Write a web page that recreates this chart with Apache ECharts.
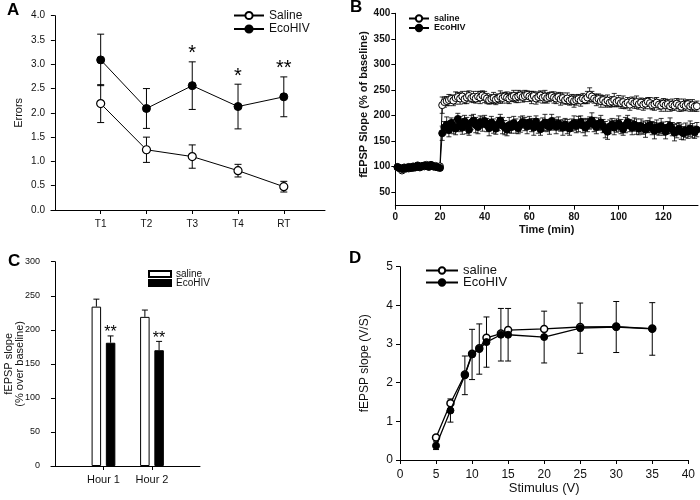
<!DOCTYPE html>
<html><head><meta charset="utf-8">
<script src="https://cdn.jsdelivr.net/npm/echarts@6/dist/echarts.min.js"></script>
<style>html,body{margin:0;padding:0;background:#fff}#c{width:700px;height:500px}</style>
</head><body><div id="c"></div>
<script>
// ---------- Panel A ----------
const catsA = ['T1', 'T2', 'T3', 'T4', 'RT'];
const salineA = [2.19, 1.24, 1.10, 0.81, 0.48];
const salineAErr = [0.39, 0.26, 0.24, 0.13, 0.11];
const ecoA = [3.09, 2.09, 2.56, 2.13, 2.33];
const ecoAErr = [0.53, 0.41, 0.49, 0.46, 0.41];
const sigA = ['', '', '*', '*', '**'];

// ---------- Panel B ----------
const timeB = [
  1,2,3,4,5,6,7,8,9,10, 11,12,13,14,15,16,17,18,19,20,
  21,22,23,24,25,26,27,28,29,30, 31,32,33,34,35,36,37,38,39,40,
  41,42,43,44,45,46,47,48,49,50, 51,52,53,54,55,56,57,58,59,60,
  61,62,63,64,65,66,67,68,69,70, 71,72,73,74,75,76,77,78,79,80,
  81,82,83,84,85,86,87,88,89,90, 91,92,93,94,95,96,97,98,99,100,
  101,102,103,104,105,106,107,108,109,110, 111,112,113,114,115,116,117,118,119,120,
  121,122,123,124,125,126,127,128,129,130, 131,132,133,134,135
];
const salineB = [
  98,96,92,95,97,96,98,97,99,100, 98,101,100,103,101,102,100,101,99,100,
  220,226,228,230,232,229,234,236,233,237, 232,235,238,234,236,233,237,235,239,236,
  233,230,232,234,231,233,236,234,237,235, 233,236,238,235,237,239,236,238,240,237,
  235,238,233,236,239,235,237,234,236,238, 235,233,236,232,234,230,233,229,231,228,
  230,232,229,233,231,235,240,237,233,230, 232,228,230,226,229,225,227,230,226,228,
  224,226,222,225,221,227,224,226,222,225, 221,223,227,224,220,222,225,221,219,223,
  220,222,218,221,219,223,220,217,221,219, 222,218,220,217,218
];
const salineBErr = [
  3,3,4,3,3,3,2,3,3,3, 3,3,3,4,3,3,3,3,3,3,
  16,10,9,11,8,10,12,9,11,10, 9,12,10,8,11,9,10,12,9,11,
  10,8,9,11,10,9,12,10,8,11, 10,9,11,10,12,9,10,11,8,10,
  12,9,11,10,9,11,12,10,9,8, 11,10,9,12,10,8,11,9,10,12,
  10,9,11,10,8,12,14,10,9,11, 10,12,9,10,11,9,10,13,9,11,
  10,12,9,10,11,9,10,12,10,9, 11,10,8,11,9,12,10,9,11,10,
  12,9,10,11,9,10,12,9,11,10, 9,10,11,9,10
];
const ecoB = [
  99,97,95,98,96,99,97,100,98,102, 99,100,102,101,99,103,100,99,98,97,
  165,176,182,171,185,178,174,193,183,176, 188,180,172,186,190,181,177,187,183,189,
  181,175,186,179,174,183,190,180,176,172, 181,177,185,179,175,182,187,183,178,186,
  181,176,188,179,173,182,186,180,177,189, 183,178,184,180,176,182,178,174,181,185,
  179,183,187,180,176,181,185,190,182,177, 183,186,179,172,168,178,182,176,180,184,
  178,173,181,187,180,176,182,178,174,179, 176,172,178,181,175,170,177,173,179,174,
  168,176,180,173,166,170,174,168,165,171, 168,174,170,167,172
];
const ecoBErr = [
  4,3,4,3,4,3,3,4,3,3, 3,4,3,3,4,3,3,4,3,4,
  14,12,15,13,10,14,12,11,15,13, 12,16,11,14,12,15,13,12,14,11,
  13,15,12,14,11,13,12,16,14,12, 15,12,13,14,11,15,12,13,14,12,
  13,15,11,14,12,13,16,12,14,13, 12,14,13,11,15,12,14,13,12,14,
  13,15,12,14,16,13,12,15,14,13, 12,14,13,16,15,13,12,14,13,15,
  14,12,15,13,12,14,13,15,12,14, 13,15,12,14,13,16,14,12,15,13,
  14,12,15,13,16,14,12,15,13,14, 13,15,14,12,14
];
const ticksBX = [0, 20, 40, 60, 80, 100, 120];
const ticksBY = [50, 100, 150, 200, 250, 300, 350, 400];

// ---------- Panel C ----------
const catsC = ['Hour 1', 'Hour 2'];
const salineC = [234, 219];
const salineCErr = [11, 10];
const ecoC = [181, 170];
const ecoCErr = [10, 13];
const sigC = ['**', '**'];

// ---------- Panel D ----------
const stimD = [5, 7, 9, 10, 11, 12, 14, 15, 20, 25, 30, 35];
const salineD = [0.58, 1.47, 2.21, 2.75, 2.89, 3.16, 3.27, 3.36, 3.39, 3.44, 3.45, 3.40];
const ecoD = [0.37, 1.28, 2.19, 2.73, 2.87, 3.05, 3.24, 3.24, 3.18, 3.41, 3.44, 3.39];
const ecoDErr = [0.10, 0.30, 0.50, 0.65, 0.65, 0.65, 0.68, 0.68, 0.67, 0.65, 0.66, 0.68];

// ---------- helpers ----------
const FONT = 'Arial, "Liberation Sans", Helvetica, sans-serif';
const INK = '#111';
function pairs(xs, ys) { return xs.map((x, i) => [x, ys[i]]); }
function triples(xs, ys, es) { return xs.map((x, i) => [x, ys[i], es[i]]); }

function errorSeries(name, xIdx, yIdx, data, opt) {
  return {
    type: 'custom', name: name, xAxisIndex: xIdx, yAxisIndex: yIdx, z: 1,
    silent: true, animation: false, clip: false,
    data: data,
    renderItem: function (params, api) {
      const x = api.value(0), y = api.value(1), e = api.value(2);
      const off = opt.offset || 0;
      const top = api.coord([x, y + e]);
      const bot = api.coord([x, opt.upOnly ? y : y - e]);
      const cx = top[0] + off;
      const hw = opt.cap / 2;
      const st = { stroke: '#000', lineWidth: opt.lw || 1 };
      const ch = [
        { type: 'line', shape: { x1: cx, y1: top[1], x2: cx, y2: bot[1] }, style: st },
        { type: 'line', shape: { x1: cx - hw, y1: top[1], x2: cx + hw, y2: top[1] }, style: st }
      ];
      if (!opt.upOnly) ch.push({ type: 'line', shape: { x1: cx - hw, y1: bot[1], x2: cx + hw, y2: bot[1] }, style: st });
      if (opt.sig && opt.sig[params.dataIndex]) {
        ch.push({ type: 'text', x: cx, y: top[1] + (opt.sigOffset || 0),
          style: { text: opt.sig[params.dataIndex], fill: '#000', font: opt.sigFont,
                   align: 'center', verticalAlign: 'bottom' } });
      }
      return { type: 'group', children: ch };
    }
  };
}

const axisLine = { show: true, lineStyle: { color: '#000', width: 1 } };
const axisTick = { show: true, length: 4, lineStyle: { color: '#000', width: 1 } };

const openItem = { color: '#fff', borderColor: '#000', borderWidth: 1.2 };
const fillItem = { color: '#000', borderColor: '#000', borderWidth: 1 };
const lineSt = { color: '#000', width: 1 };

const option = {
  animation: false,
  backgroundColor: '#fff',
  textStyle: { fontFamily: FONT, color: INK },
  graphic: [
    { type: 'text', left: 7, top: 2, style: { text: 'A', font: 'bold 17px ' + FONT, fill: '#000' } },
    { type: 'text', left: 350, top: -1, style: { text: 'B', font: 'bold 17px ' + FONT, fill: '#000' } },
    { type: 'text', left: 8, top: 253, style: { text: 'C', font: 'bold 17px ' + FONT, fill: '#000' } },
    { type: 'text', left: 349, top: 250, style: { text: 'D', font: 'bold 17px ' + FONT, fill: '#000' } }
  ],
  grid: [
    { left: 51, top: 15.7, width: 274, height: 194.3, containLabel: false },
    { left: 395.3, top: 13.3, width: 302.7, height: 192.4, containLabel: false },
    { left: 51, top: 261.7, width: 149, height: 204.3, containLabel: false },
    { left: 400, top: 266.7, width: 288.3, height: 193.3, containLabel: false }
  ],
  xAxis: [
    { gridIndex: 0, type: 'value', min: -0.085, max: 5.9,
      axisLine: axisLine, axisTick: Object.assign({ customValues: [1, 2, 3, 4, 5] }, axisTick),
      splitLine: { show: false },
      axisLabel: { customValues: [1, 2, 3, 4, 5], formatter: v => catsA[Math.round(v) - 1] || '',
                   fontSize: 10, color: INK, margin: 9 } },
    { gridIndex: 1, type: 'value', min: 0, max: 135.5,
      name: 'Time (min)', nameLocation: 'middle', nameGap: 19,
      nameTextStyle: { fontSize: 11, fontWeight: 'bold', color: INK },
      axisLine: axisLine, axisTick: Object.assign({ customValues: ticksBX }, axisTick),
      splitLine: { show: false },
      axisLabel: { customValues: ticksBX, fontSize: 10, fontWeight: 'bold', color: INK, margin: 7 } },
    { gridIndex: 2, type: 'value', min: -0.082, max: 2.99,
      axisLine: axisLine, axisTick: Object.assign({ customValues: [1, 2] }, axisTick),
      splitLine: { show: false },
      axisLabel: { customValues: [1, 2], formatter: v => catsC[Math.round(v) - 1] || '',
                   fontSize: 11, color: INK, margin: 8 } },
    { gridIndex: 3, type: 'value', min: 0, max: 40, interval: 5,
      name: 'Stimulus (V)', nameLocation: 'middle', nameGap: 21,
      nameTextStyle: { fontSize: 13, color: INK },
      axisLine: axisLine, axisTick: axisTick, splitLine: { show: false },
      axisLabel: { fontSize: 12, color: INK, margin: 9 } }
  ],
  yAxis: [
    { gridIndex: 0, type: 'value', min: 0, max: 4, interval: 0.5,
      name: 'Errors', nameLocation: 'middle', nameGap: 27, nameRotate: 90,
      nameTextStyle: { fontSize: 11, color: INK },
      axisLine: axisLine, axisTick: axisTick, splitLine: { show: false },
      axisLabel: { formatter: v => v.toFixed(1), fontSize: 10, color: INK, margin: 6 } },
    { gridIndex: 1, type: 'value', min: 23, max: 400,
      name: 'fEPSP Slope (% of baseline)', nameLocation: 'middle', nameGap: 24, nameRotate: 90,
      nameTextStyle: { fontSize: 11, fontWeight: 'bold', color: INK, padding: [0, 0, 0, 10] },
      axisLine: axisLine, axisTick: Object.assign({ customValues: ticksBY }, axisTick),
      splitLine: { show: false },
      axisLabel: { customValues: ticksBY, fontSize: 10, fontWeight: 'bold', color: INK, margin: 5 } },
    { gridIndex: 2, type: 'value', min: 0, max: 300, interval: 50,
      name: 'fEPSP slope\n(% over baseline)', nameLocation: 'middle', nameGap: 26, nameRotate: 90,
      nameMoveOverlap: false,
      nameTextStyle: { fontSize: 11, color: INK, lineHeight: 10.5 },
      axisLine: axisLine, axisTick: axisTick, splitLine: { show: false },
      axisLabel: { fontSize: 9, color: INK, margin: 11 } },
    { gridIndex: 3, type: 'value', min: 0, max: 5, interval: 1,
      name: 'fEPSP slope (V/S)', nameLocation: 'middle', nameGap: 29, nameRotate: 90,
      nameTextStyle: { fontSize: 12, color: INK },
      axisLine: axisLine, axisTick: axisTick, splitLine: { show: false },
      axisLabel: { fontSize: 12, color: INK, margin: 7 } }
  ],
  legend: [
    { orient: 'vertical', left: 233, top: 9.5, padding: 0, itemWidth: 30, itemHeight: 9, itemGap: 1.5,
      data: ['Saline|A', 'EcoHIV|A'], formatter: n => n.split('|')[0],
      textStyle: { fontSize: 12, color: INK, fontFamily: FONT }, selectedMode: false },
    { orient: 'vertical', left: 408, top: 14, padding: 0, itemWidth: 20, itemHeight: 8, itemGap: 0.5,
      data: ['saline|B', 'EcoHIV|B'], formatter: n => n.split('|')[0],
      textStyle: { fontSize: 9, fontWeight: 'bold', color: INK, fontFamily: FONT }, selectedMode: false },
    { orient: 'vertical', left: 148, top: 269, padding: 0, itemWidth: 22, itemHeight: 6, itemGap: -1, icon: 'rect',
      data: ['saline|C', 'EcoHIV|C'], formatter: n => n.split('|')[0],
      textStyle: { fontSize: 10, color: INK, fontFamily: FONT }, selectedMode: false },
    { orient: 'vertical', left: 425, top: 264, padding: 0, itemWidth: 32, itemHeight: 8, itemGap: -1,
      data: ['saline|D', 'EcoHIV|D'], formatter: n => n.split('|')[0],
      textStyle: { fontSize: 13, color: INK, fontFamily: FONT }, selectedMode: false }
  ],
  series: [
    // A
    errorSeries('errSalineA', 0, 0, triples([1, 2, 3, 4, 5], salineA, salineAErr), { cap: 7 }),
    errorSeries('errEcoA', 0, 0, triples([1, 2, 3, 4, 5], ecoA, ecoAErr),
      { cap: 7, sig: sigA, sigFont: '20px ' + FONT, sigOffset: 2 }),
    { type: 'line', name: 'Saline|A', xAxisIndex: 0, yAxisIndex: 0, z: 3,
      data: pairs([1, 2, 3, 4, 5], salineA), symbol: 'circle', symbolSize: 8,
      itemStyle: openItem, lineStyle: lineSt },
    { type: 'line', name: 'EcoHIV|A', xAxisIndex: 0, yAxisIndex: 0, z: 3,
      data: pairs([1, 2, 3, 4, 5], ecoA), symbol: 'circle', symbolSize: 8,
      itemStyle: fillItem, lineStyle: lineSt },
    // B
    errorSeries('errSalineB', 1, 1, triples(timeB, salineB, salineBErr), { cap: 5, lw: 0.8 }),
    errorSeries('errEcoB', 1, 1, triples(timeB, ecoB, ecoBErr), { cap: 5, lw: 0.8 }),
    { type: 'line', name: 'saline|B', xAxisIndex: 1, yAxisIndex: 1, z: 3,
      data: pairs(timeB, salineB), symbol: 'circle', symbolSize: 7,
      itemStyle: { color: '#fff', borderColor: '#000', borderWidth: 1 }, lineStyle: lineSt },
    { type: 'line', name: 'EcoHIV|B', xAxisIndex: 1, yAxisIndex: 1, z: 3,
      data: pairs(timeB, ecoB), symbol: 'circle', symbolSize: 7,
      itemStyle: fillItem, lineStyle: lineSt },
    // C
    { type: 'bar', name: 'saline|C', xAxisIndex: 2, yAxisIndex: 2, z: 2,
      data: pairs([1, 2], salineC), barWidth: 9.5, barGap: '50%',
      itemStyle: { color: '#fff', borderColor: '#000', borderWidth: 1 } },
    { type: 'bar', name: 'EcoHIV|C', xAxisIndex: 2, yAxisIndex: 2, z: 2,
      data: pairs([1, 2], ecoC), barWidth: 9.5, barGap: '50%',
      itemStyle: { color: '#000', borderColor: '#000', borderWidth: 1 } },
    errorSeries('errSalineC', 2, 2, triples([1, 2], salineC, salineCErr), { cap: 6, upOnly: true, offset: -7.1 }),
    errorSeries('errEcoC', 2, 2, triples([1, 2], ecoC, ecoCErr),
      { cap: 6, upOnly: true, offset: 7.1, sig: sigC, sigFont: '16px ' + FONT, sigOffset: 5 }),
    // D
    errorSeries('errEcoD', 3, 3, triples(stimD, ecoD, ecoDErr), { cap: 6 }),
    { type: 'line', name: 'saline|D', xAxisIndex: 3, yAxisIndex: 3, z: 3,
      data: pairs(stimD, salineD), symbol: 'circle', symbolSize: 7,
      itemStyle: { color: '#fff', borderColor: '#000', borderWidth: 1.5 }, lineStyle: { color: '#000', width: 1.3 } },
    { type: 'line', name: 'EcoHIV|D', xAxisIndex: 3, yAxisIndex: 3, z: 4,
      data: pairs(stimD, ecoD), symbol: 'circle', symbolSize: 7,
      itemStyle: fillItem, lineStyle: { color: '#000', width: 1.3 } }
  ]
};

const chart = echarts.init(document.getElementById('c'), null, { renderer: 'canvas', width: 700, height: 500 });
chart.setOption(option);
</script>
</body></html>
